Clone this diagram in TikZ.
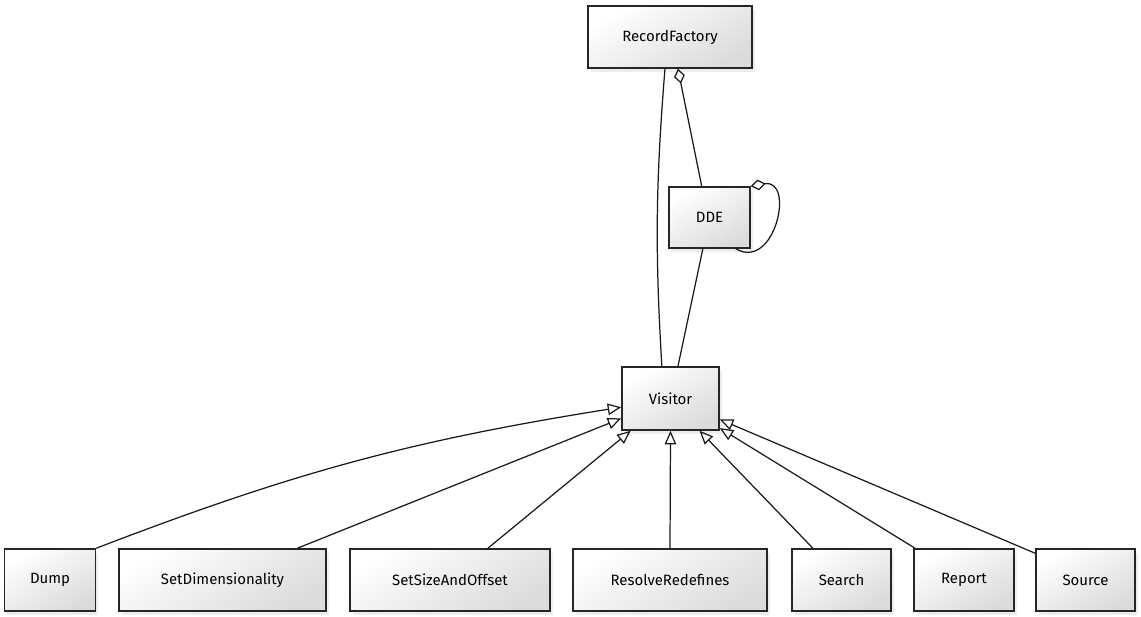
\documentclass[tikz,border=0pt]{standalone}
\usepackage{fontspec}
\setmainfont{Fira Sans}
\usetikzlibrary{arrows.meta,shadows}

\begin{document}
\begin{tikzpicture}[x=0.02cm, y=-0.02cm,
    classbox/.style={rectangle, draw=black!85, line width=0.9pt,
        top color=white, bottom color=black!14, shading angle=30,
        drop shadow={opacity=0.14, shadow xshift=1.5pt, shadow yshift=-2pt},
        minimum height=1.24cm, font=\fontsize{8.5}{10}\selectfont, inner sep=2pt},
    link/.style={line width=0.7pt, draw=black!90},
    inherit/.style={link, -{Triangle[open, length=0.27cm, width=0.23cm]}},
    owns/.style={link, {Diamond[open, length=0.3cm, width=0.22cm]}-}]
    \useasboundingbox (0,0) rectangle (1141,616);

    \node[classbox, minimum width=3.28cm] (RecordFactory) at (670,37) {RecordFactory};
    \node[classbox, minimum width=1.62cm, minimum height=1.22cm] (DDE) at (709.5,217.5) {DDE};
    \node[classbox, minimum width=1.94cm, minimum height=1.26cm] (Visitor) at (670.5,398.5) {Visitor};

    \node[classbox, minimum width=1.82cm] (Dump) at (50,580) {Dump};
    \node[classbox, minimum width=4.14cm] (SetDimensionality) at (222.5,580) {SetDimensionality};
    \node[classbox, minimum width=4.0cm] (SetSizeAndOffset) at (450,580) {SetSizeAndOffset};
    \node[classbox, minimum width=3.88cm] (ResolveRedefines) at (670,580) {ResolveRedefines};
    \node[classbox, minimum width=1.98cm] (Search) at (841.5,580) {Search};
    \node[classbox, minimum width=2.0cm] (Report) at (964,580) {Report};
    \node[classbox, minimum width=1.98cm] (Source) at (1085.5,580) {Source};

    \draw[link] (RecordFactory.261) to[bend right=4] (Visitor.105);
    \draw[owns] (RecordFactory.284) -- (DDE.104);
    \draw[link] (DDE.258) -- (Visitor.77);
    \draw[owns] (DDE.north east) to[out=10, in=-30, looseness=1.8] (DDE.310);

    \draw[inherit] (Dump.north east) to[bend left=6] (Visitor.190);
    \foreach \sub/\from/\to in {SetDimensionality/23/202, SetSizeAndOffset/40/219,
        ResolveRedefines/north/270, Search/132/312, Report/147/329, Source/152/337}
        \draw[inherit] (\sub.\from) -- (Visitor.\to);
\end{tikzpicture}
\end{document}
